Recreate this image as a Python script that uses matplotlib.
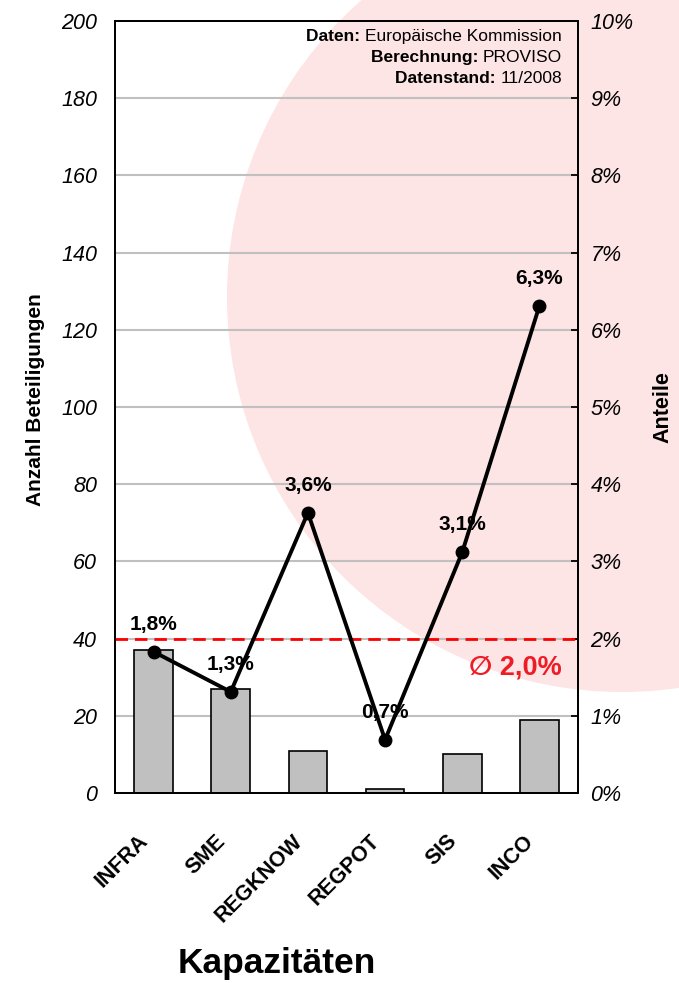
# Beteiligungen im Bereich Kapazitaeten - Balken + Anteile
import numpy as np
import matplotlib.pyplot as plt
import matplotlib.transforms as mtransforms
from matplotlib.patches import Ellipse
from matplotlib.ticker import FuncFormatter

plt.rcParams['font.family'] = ['Liberation Sans', 'DejaVu Sans']

# daten
kategorien = ['INFRA', 'SME', 'REGKNOW', 'REGPOT', 'SIS', 'INCO']
beteiligungen = [37, 27, 11, 1, 10, 19]
anteile = [1.83, 1.31, 3.63, 0.69, 3.12, 6.31]  # in %
anteil_labels = ['1,8%', '1,3%', '3,6%', '0,7%', '3,1%', '6,3%']
durchschnitt = 2.0
durchschnitt_label = '\u2205 2,0%'

W, H = 679, 983
fig = plt.figure(figsize=(W / 100, H / 100), dpi=100)

# rosa kreis im hintergrund
fig.add_artist(Ellipse((622 / W, 1 - 297 / H), 2 * 395 / W, 2 * 395 / H,
                       transform=fig.transFigure, facecolor='#fde4e5',
                       edgecolor='none', zorder=-1))

ax = fig.add_axes([115 / W, 1 - 793 / H, 463 / W, 772 / H])
ax.set_facecolor('none')
x = np.arange(len(kategorien))
ax.bar(x, beteiligungen, width=0.5, color='#c0c0c0', edgecolor='black',
       linewidth=1.2, zorder=2)
ax.set_xlim(-0.5, len(kategorien) - 0.5)
ax.set_ylim(0, 200)
ax.set_yticks(np.arange(0, 201, 20))
ax.yaxis.grid(True, color='#c0c0c0', linewidth=1.5)
ax.set_axisbelow(True)
ax.tick_params(axis='y', length=0, pad=13, labelsize=15.5)
for lbl in ax.get_yticklabels():
    lbl.set_fontstyle('italic')
for s in ax.spines.values():
    s.set_linewidth(1.3)

ax.set_xticks(x)
ax.set_xticklabels(kategorien, rotation=45, ha='right', va='top',
                   rotation_mode='anchor', fontweight='bold', fontsize=15.5)
ax.tick_params(axis='x', length=0, pad=27)
shift = mtransforms.ScaledTranslation(-16 / 100, 0, fig.dpi_scale_trans)
for lbl in ax.get_xticklabels():
    lbl.set_transform(lbl.get_transform() + shift)

# zweite achse mit anteilen
ax2 = ax.twinx()
ax2.set_facecolor('none')
ax2.set_ylim(0, 10)
ax2.set_yticks(np.arange(0, 11, 1))
ax2.yaxis.set_major_formatter(FuncFormatter(lambda v, p: f'{v:.0f}%'))
ax2.tick_params(axis='y', direction='in', length=5, width=1.3, pad=9,
                labelsize=15.5)
for lbl in ax2.get_yticklabels():
    lbl.set_fontstyle('italic')
for s in ax2.spines.values():
    s.set_linewidth(1.3)

ax2.axhline(durchschnitt, color='#ff0000', linewidth=2, dashes=(4.5, 2.5))
ax2.plot(x, anteile, color='black', linewidth=2.8, marker='o', markersize=9)
for xi, yi, t in zip(x, anteile, anteil_labels):
    ax2.annotate(t, (xi, yi), xytext=(0, 16), textcoords='offset points',
                 ha='center', va='baseline', fontsize=15, fontweight='bold')

ax2.text(0.9654, 0.154, durchschnitt_label, transform=ax2.transAxes,
         ha='right', va='baseline', color='#ee1c25', fontsize=19.5,
         fontweight='bold', family=['Liberation Sans', 'DejaVu Sans'])

# quellenangabe
quelle = [('Daten: ', 'Europäische Kommission'),
          ('Berechnung: ', 'PROVISO'),
          ('Datenstand: ', '11/2008')]
ys = [0.970, 0.943, 0.916]
for (fett, normal), yy in zip(quelle, ys):
    t = ax2.text(0.9654, yy, normal, transform=ax2.transAxes, ha='right',
                 va='bottom', fontsize=12.5)
    ax2.annotate(fett, xy=(0, 0), xycoords=t, ha='right', va='bottom',
                 fontsize=12.5, fontweight='bold')

fig.text(36 / W, 1 - 400 / H, 'Anzahl Beteiligungen', rotation=90,
         ha='center', va='center', fontsize=15, fontweight='bold')
fig.text(663 / W, 1 - 407 / H, 'Anteile', rotation=90,
         ha='center', va='center', fontsize=15.5, fontweight='bold')
fig.text(277 / W, 1 - 973 / H, 'Kapazitäten', ha='center', va='baseline',
         fontsize=25.5, fontweight='bold')

fig.savefig('out.png', dpi=100)
